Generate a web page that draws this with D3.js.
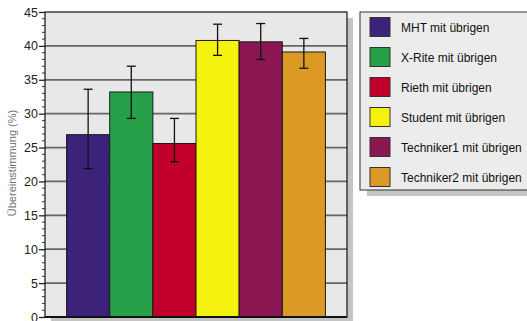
<!DOCTYPE html>
<html>
<head>
<meta charset="utf-8">
<script src="https://cdn.jsdelivr.net/npm/d3@7"></script>
<style>
  html, body { margin: 0; padding: 0; background: #fff; }
  svg { display: block; font-family: "Liberation Sans", Arial, Helvetica, sans-serif; }
</style>
</head>
<body>
<svg id="chart" width="527" height="321"></svg>
<script>
// Agreement of each rater with the remaining raters (mean and error range, %)
const series = ["MHT mit übrigen", "X-Rite mit übrigen", "Rieth mit übrigen",
                "Student mit übrigen", "Techniker1 mit übrigen", "Techniker2 mit übrigen"];
const values  = [26.9, 33.2, 25.6, 40.8, 40.6, 39.1];
const errLow  = [21.9, 29.3, 22.9, 38.6, 38.0, 36.7];
const errHigh = [33.6, 37.0, 29.3, 43.2, 43.3, 41.1];
const colors  = ["#3c2279", "#27a04a", "#c3002b", "#f6f20f", "#8a1752", "#dc9926"];
const yTicks  = [0, 5, 10, 15, 20, 25, 30, 35, 40, 45];
const yLabel  = "Übereinstimmung (%)";

const svg = d3.select("#chart");
const plot = { left: 45, top: 12, width: 302, height: 305 };

const x = d3.scaleBand().domain(series).range([0, plot.width])
  .paddingInner(0).paddingOuter(0.5);
const y = d3.scaleLinear().domain([0, 45]).range([plot.height, 0]);

// drop shadow behind plot frame
svg.append("rect")
  .attr("x", plot.left + 6).attr("y", plot.top + 6)
  .attr("width", plot.width).attr("height", plot.height)
  .attr("fill", "#c4c4c4");

const g = svg.append("g").attr("transform", `translate(${plot.left},${plot.top})`);

g.append("rect")
  .attr("width", plot.width).attr("height", plot.height)
  .attr("fill", "#e8e8e8");

// horizontal grid lines at major ticks
g.selectAll("line.grid")
  .data(yTicks.filter(t => t > 0 && t < 45))
  .join("line")
  .attr("class", "grid")
  .attr("x1", 0).attr("x2", plot.width)
  .attr("y1", d => y(d)).attr("y2", d => y(d))
  .attr("stroke", "#666").attr("stroke-width", 1.7);

// bars
g.selectAll("rect.bar")
  .data(series)
  .join("rect")
  .attr("class", "bar")
  .attr("x", d => x(d))
  .attr("y", (d, i) => y(values[i]))
  .attr("width", x.bandwidth())
  .attr("height", (d, i) => plot.height - y(values[i]))
  .attr("fill", (d, i) => colors[i])
  .attr("stroke", "#1a1a1a").attr("stroke-width", 1);

// error bars
const err = g.selectAll("g.err").data(series).join("g").attr("class", "err")
  .attr("transform", d => `translate(${x(d) + x.bandwidth() / 2},0)`);
err.append("line")
  .attr("y1", (d, i) => y(errLow[i])).attr("y2", (d, i) => y(errHigh[i]))
  .attr("stroke", "#111").attr("stroke-width", 1.3);
err.append("line")
  .attr("x1", -4.5).attr("x2", 4.5)
  .attr("y1", (d, i) => y(errHigh[i])).attr("y2", (d, i) => y(errHigh[i]))
  .attr("stroke", "#111").attr("stroke-width", 1.3);
err.append("line")
  .attr("x1", -4.5).attr("x2", 4.5)
  .attr("y1", (d, i) => y(errLow[i])).attr("y2", (d, i) => y(errLow[i]))
  .attr("stroke", "#111").attr("stroke-width", 1.3);

// frame
g.append("rect")
  .attr("width", plot.width).attr("height", plot.height)
  .attr("fill", "none").attr("stroke", "#111").attr("stroke-width", 1.2);
g.append("line")
  .attr("x1", 0).attr("x2", plot.width)
  .attr("y1", plot.height).attr("y2", plot.height)
  .attr("stroke", "#111").attr("stroke-width", 2.2);

// y axis: minor ticks every unit, major ticks with labels
const minor = d3.range(0, 46).filter(v => v % 5 !== 0);
g.selectAll("line.minor").data(minor).join("line")
  .attr("class", "minor")
  .attr("x1", -3).attr("x2", 0)
  .attr("y1", d => y(d)).attr("y2", d => y(d))
  .attr("stroke", "#333").attr("stroke-width", 1);

const yAxis = d3.axisLeft(y).tickValues(yTicks).tickSize(6).tickPadding(1)
  .tickFormat(d3.format("d"));
const ya = g.append("g").call(yAxis);
ya.select(".domain").remove();
ya.selectAll(".tick line").attr("stroke", "#222").attr("stroke-width", 1.3);
ya.selectAll(".tick text").attr("fill", "#222").style("font-size", "12.5px")
  .style("font-family", "\"Liberation Sans\", Arial, sans-serif");

svg.append("text")
  .attr("transform", "translate(16,163) rotate(-90)")
  .attr("text-anchor", "middle")
  .attr("fill", "#707070")
  .style("font-size", "11px")
  .text(yLabel);

// legend
const leg = { x: 360, y: 12, w: 175, h: 178 };
svg.append("rect")
  .attr("x", leg.x + 7).attr("y", leg.y + 6)
  .attr("width", leg.w).attr("height", leg.h)
  .attr("fill", "#c4c4c4");
svg.append("rect")
  .attr("x", leg.x).attr("y", leg.y)
  .attr("width", leg.w).attr("height", leg.h)
  .attr("fill", "#ececec").attr("stroke", "#333").attr("stroke-width", 1);

const items = svg.selectAll("g.leg").data(series).join("g").attr("class", "leg")
  .attr("transform", (d, i) => `translate(${leg.x + 10},${leg.y + 5.5 + i * 30})`);
items.append("rect")
  .attr("width", 20).attr("height", 19)
  .attr("fill", (d, i) => colors[i])
  .attr("stroke", "#333").attr("stroke-width", 1);
items.append("text")
  .attr("x", 31).attr("y", 14)
  .attr("fill", "#111")
  .style("font-size", "12px")
  .text(d => d);
</script>
</body>
</html>
